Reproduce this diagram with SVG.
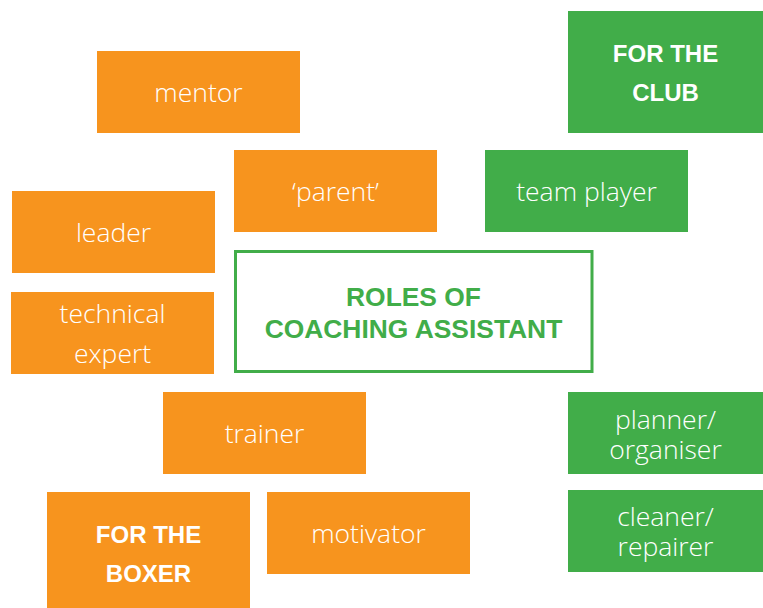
<svg xmlns="http://www.w3.org/2000/svg" width="763" height="608" viewBox="0 0 763 608">
<style>
.o{fill:#F7941E}
.g{fill:#41AD49}
.t{font-family:"Open Sans","Liberation Sans",Arial,sans-serif;font-weight:300;font-size:26.5px;fill:#FFFFFF;text-anchor:middle}
.b{font-family:"Liberation Sans",Arial,sans-serif;font-size:24px;font-weight:bold;fill:#FFFFFF;text-anchor:middle}
.c{font-family:"Liberation Sans",Arial,sans-serif;font-size:26.4px;font-weight:bold;fill:#41AD49;text-anchor:middle}
</style>
<rect width="763" height="608" fill="#FFFFFF"/>
<g id="connectors"></g>
<g id="mentor"><rect class="o" x="97" y="51" width="203" height="82"/><text class="t" x="198.5" y="101.5">mentor</text></g>
<g id="for-the-club"><rect class="g" x="568" y="11" width="195" height="122"/><text class="b" x="665.5" y="62.3">FOR THE<tspan x="665.5" dy="38.4">CLUB</tspan></text></g>
<g id="parent"><rect class="o" x="234" y="150" width="203" height="82"/><text class="t" x="335.5" y="200.5">‘parent’</text></g>
<g id="team-player"><rect class="g" x="485" y="150" width="203" height="82"/><text class="t" x="586.5" y="200.5">team player</text></g>
<g id="leader"><rect class="o" x="12" y="191" width="203" height="82"/><text class="t" x="113.5" y="241.5">leader</text></g>
<g id="technical-expert"><rect class="o" x="11" y="292" width="203" height="82"/><text class="t" x="112.5" y="322.5">technical<tspan x="112.5" dy="40">expert</tspan></text></g>
<g id="roles"><rect x="235.5" y="251.5" width="356.5" height="120" fill="#FFFFFF" stroke="#41AD49" stroke-width="3"/><text class="c" x="413.5" y="305.5">ROLES OF<tspan x="413.5" dy="32.8">COACHING ASSISTANT</tspan></text></g>
<g id="trainer"><rect class="o" x="163" y="392" width="203" height="82"/><text class="t" x="264.5" y="442.5">trainer</text></g>
<g id="planner"><rect class="g" x="568" y="392" width="195" height="82"/><text class="t" x="665.5" y="428.5">planner/<tspan x="665.5" dy="30">organiser</tspan></text></g>
<g id="for-the-boxer"><rect class="o" x="47" y="492" width="203" height="116"/><text class="b" x="148.5" y="542.7">FOR THE<tspan x="148.5" dy="39.6">BOXER</tspan></text></g>
<g id="motivator"><rect class="o" x="267" y="492" width="203" height="82"/><text class="t" x="368.5" y="542.5">motivator</text></g>
<g id="cleaner"><rect class="g" x="568" y="490" width="195" height="82"/><text class="t" x="665.5" y="526">cleaner/<tspan x="665.5" dy="30">repairer</tspan></text></g>
</svg>
